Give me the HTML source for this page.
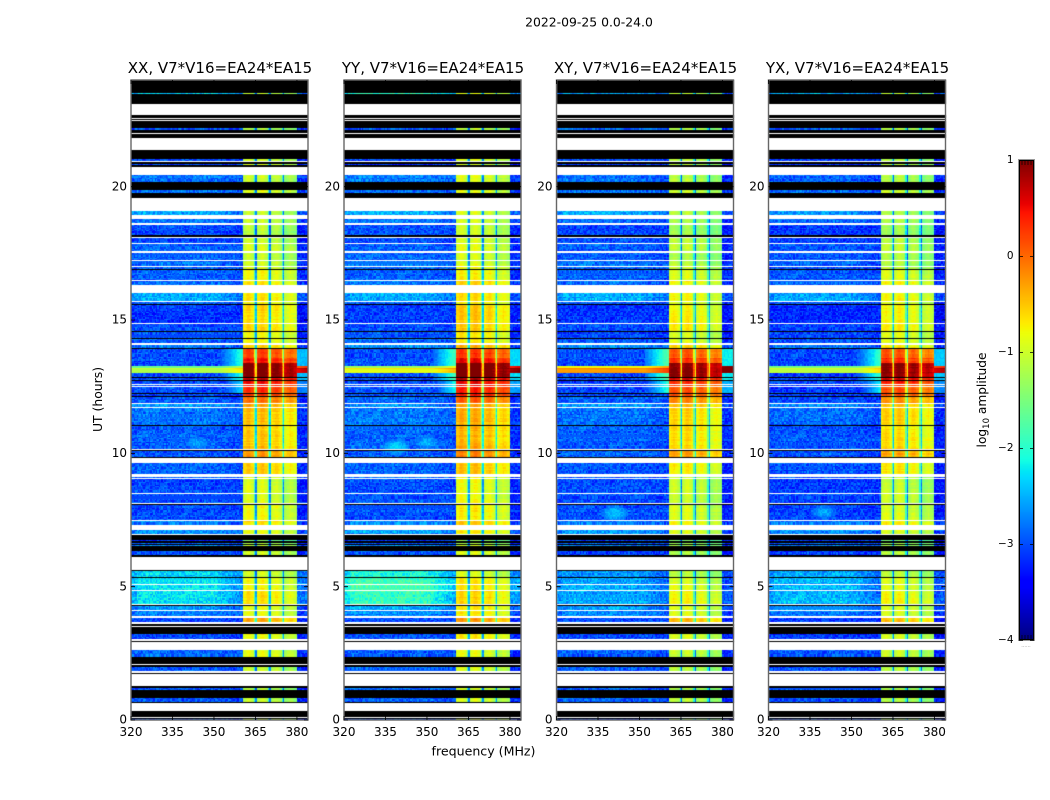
<!DOCTYPE html>
<html lang="en">
<head>
<meta charset="utf-8">
<title>2022-09-25 0.0-24.0</title>
<style>
html,body{margin:0;padding:0;background:#fff;}
#figure{position:relative;width:1050px;height:800px;overflow:hidden;background:#fff;}
canvas{position:absolute;}
svg{position:absolute;left:0;top:0;}
text{font-family:"DejaVu Sans","Liberation Sans",sans-serif;fill:#000;}
</style>
</head>
<body>
<div id="figure">
<svg id="overlay" width="1050" height="800">
<text x="589" y="26.5" text-anchor="middle" font-size="12.4">2022-09-25 0.0-24.0</text>
<text x="483.5" y="755.5" text-anchor="middle" font-size="12.6">frequency (MHz)</text>
<text transform="translate(102,399.5) rotate(-90)" text-anchor="middle" font-size="12.4">UT (hours)</text>
<text transform="translate(986,400) rotate(-90)" text-anchor="middle" font-size="12.2">log<tspan font-size="8.5" dy="3">10</tspan><tspan dy="-3"> amplitude</tspan></text>
<text x="1026" y="647" text-anchor="middle" font-size="5" style="fill:#888">......</text>
</svg>
</div>
<script>
// ---- chart data ----
const K = 'K', W = 'W', _ = null;

const panelTitles = ['XX, V7*V16=EA24*EA15', 'YY, V7*V16=EA24*EA15', 'XY, V7*V16=EA24*EA15', 'YX, V7*V16=EA24*EA15'];
const xTicks = [320, 335, 350, 365, 380];
const yTicks = [0, 5, 10, 15, 20];
const cbarTicks = [1, 0, -1, -2, -3, -4];

// time spans, top to bottom (UT hours). K = black, W = blank (flagged)
const spanEdgesUT = [24,
 23.51,23.48,23.10,22.69,22.58,22.54,22.50,22.46,22.20,22.13,
 22.01,21.98,21.83,21.38,21.04,20.96,20.93,20.85,20.81,20.74,
 20.44,20.18,19.88,19.76,19.56,19.09,18.94,18.79,18.62,18.58,
 18.17,18.13,18.09,17.89,17.85,17.64,17.61,17.57,17.53,17.25,
 17.21,17.03,16.99,16.91,16.88,16.50,16.46,16.31,16.02,15.71,
 15.68,15.60,15.56,14.89,14.85,14.59,14.55,14.33,14.29,14.14,
 14.06,13.95,13.91,13.58,13.39,12.86,12.83,12.75,12.71,12.60,
 12.56,12.51,12.47,12.26,12.23,12.15,12.11,11.89,11.85,11.74,
 11.70,11.08,11.04,10.29,10.26,10.16,10.13,10.09,9.86,9.83,
 9.64,9.23,9.11,9.08,9.04,8.53,8.49,8.46,8.42,8.14,
 8.10,8.06,7.50,7.46,7.33,7.14,6.99,6.94,6.75,6.71,
 6.64,6.60,6.56,6.53,6.34,6.19,6.11,5.63,5.59,5.36,
 5.33,5.10,5.06,4.86,4.82,4.35,4.31,4.28,4.13,4.09,
 3.90,3.84,3.66,3.60,3.53,3.47,3.21,3.02,2.96,2.93,
 2.61,2.38,2.10,2.06,2.00,1.85,1.76,1.73,1.28,1.20,
 1.11,0.83,0.66,0.62,0.34,0.13,0.08,0.04,0];

// log10 amplitude of the off-band background in each span
const spanBackground = [
 K,-2.2,K,W,K,W,K,W,K,-2.8,
 K,W,K,W,K,-2.9,W,K,-3,K,
 W,-2.7,K,-2.7,K,W,-2.4,W,-2.7,W,
 -2.9,K,W,-2.9,W,-2.8,W,-2.8,W,-2.8,
 W,-2.7,W,-2.8,K,-2.8,W,-2.7,W,-2.4,
 W,-2.8,K,-3,W,-2.9,K,-2.9,K,-2.8,
 W,-2.6,K,-2.9,-2.9,-2.9,K,-2.9,K,-2.9,
 W,-2.9,W,-2.9,K,-2.9,K,-2.8,W,-2.5,
 W,-2.7,K,-2.8,W,-2.8,W,K,-2.8,K,
 W,-2.8,W,-2.8,W,-2.9,W,-2.8,W,-2.9,
 W,K,-2.9,W,-2.6,W,-2.5,W,K,-3,
 K,-2.8,K,-2.6,K,-2.9,K,W,K,-2.25,
 K,-2.15,W,-2.1,W,-2.15,W,K,-2.5,W,
 -2.6,W,-2.9,W,K,W,K,-2.9,W,K,
 W,-2.8,K,W,K,-2.8,W,K,W,K,
 -2.8,K,-2.8,K,W,K,W,K,-2.9];

// log10 amplitude inside the bright 360-380 MHz windows in each span
const spanSignal = [
 _,-1.2,_,_,_,_,_,_,_,-1.3,
 _,_,_,_,_,-1.2,_,_,-1.2,_,
 _,-1.2,_,-1.1,_,_,-1.2,_,-1.25,_,
 -1.3,_,_,-1.2,_,-1.15,_,-1.15,_,-1.25,
 _,-1.2,_,-1.1,_,-1.0,_,-0.85,_,-0.85,
 _,-1,_,-0.8,_,-0.8,_,-1.0,_,-0.95,
 _,-0.7,_,0.0,0.25,0.9,_,0.5,_,0.3,
 _,0.2,_,0.1,_,0.1,_,-0.25,_,-0.55,
 _,-0.65,_,-0.7,_,-0.6,_,_,-0.4,_,
 _,-0.75,_,-1.1,_,-1.1,_,-1.1,_,-1.1,
 _,_,-1,_,-0.8,_,-1,_,_,-1.6,
 _,-1.4,_,-1.3,_,-1.2,_,_,_,-1.2,
 _,-1,_,-0.95,_,-0.85,_,_,-1,_,
 -1,_,-0.5,_,_,_,_,-1,_,_,
 _,-1.1,_,_,_,-1.2,_,_,_,_,
 -1.3,_,-1.2,_,_,_,_,_,-1.3];

// spectral windows
const windowStartMHz = [360.5, 365.5, 370.5, 375.5];
const windowEndMHz = [364.5, 369.5, 374.5, 380];
const windowGain = [0.12, 0.14, 0.02, -0.14];

// narrow continuum ridge near 13 UT
const ridgeTopUT = [13.30, 13.22, 13.13];
const ridgeBottomUT = [13.22, 13.13, 13.00];
const ridgeLevel = [-1.6, -1.0, -1.15];

// cyan shoulders hugging the windows during the event
const shoulderTopUT = [13.95, 12.71];
const shoulderBottomUT = [12.75, 12.23];
const shoulderLevel = [-1.95, -2.25];

// faint diffuse patches in the background
const patchPanel = [1, 1, 2, 3, 0];
const patchFreq = [339, 350, 341, 340, 344];
const patchUT = [10.25, 10.4, 7.75, 7.8, 10.4];
const patchLevel = [-2.35, -2.5, -2.4, -2.55, -2.55];

// per-polarisation adjustments
const panelSignalOffset = [0, 0.1, -0.12, -0.12];
const panelBackgroundOffset = [0, 0.03, 0, -0.05];
const panelGlowGain = [0, 0.4, -0.35, -0.2];
const panelRidgeOffset = [0, 0.3, 0.85, 0.05];
const panelShoulderOffset = [0, 0.15, 0.25, 0.05];

// fixed speckle texture (illustrative, not read cell by cell)
const speckle = [0.31,-0.42,0.12,-0.18,0.47,-0.05,-0.33,0.22,0.04,-0.51,0.38,-0.12,0.17,-0.27,0.55,-0.08,-0.39,0.09,0.28,-0.21,
 -0.46,0.35,0.02,-0.15,0.42,-0.3,0.14,0.25,-0.56,0.07,0.33,-0.1,-0.24,0.49,-0.37,0.19,-0.03,0.29,-0.44,0.11,
 0.4,-0.2,-0.07,0.24,-0.34,0.52,-0.16,0.06,-0.48,0.36,0.15,-0.29,0.21,-0.11,0.44,-0.41,0.01,0.27,-0.23,0.13,-0.36];

// ---- axes ----
const panelLeft = [131, 344, 556.5, 768.5];
const panelWidth = 177, plotTop = 80, plotBottom = 720;
const freqMin = 320, freqMax = 384, utMin = 0, utMax = 24;
const freqStep = 0.5, utStep = 0.05;
const xScale = (p, f) => panelLeft[p] + (f - freqMin) / (freqMax - freqMin) * panelWidth;
const yScale = ut => plotBottom - (ut - utMin) / (utMax - utMin) * (plotBottom - plotTop);
const cbarTop = 160, cbarBottom = 640, cbarLeft = 1019, cbarRight = 1034, cbarMin = -4, cbarMax = 1;
const cbarScale = v => cbarBottom - (v - cbarMin) / (cbarMax - cbarMin) * (cbarBottom - cbarTop);

function ramp(t, pts) {
  for (let i = 1; i < pts.length; i++) {
    if (t <= pts[i][0]) {
      const a = pts[i - 1], b = pts[i];
      return a[1] + (b[1] - a[1]) * (t - a[0]) / (b[0] - a[0]);
    }
  }
  return pts[pts.length - 1][1];
}
function jet(v) {
  const t = Math.max(0, Math.min(1, (v - cbarMin) / (cbarMax - cbarMin)));
  const r = ramp(t, [[0,0],[0.35,0],[0.66,1],[0.89,1],[1,0.5]]);
  const g = ramp(t, [[0,0],[0.125,0],[0.375,1],[0.64,1],[0.91,0],[1,0]]);
  const b = ramp(t, [[0,0.5],[0.11,1],[0.34,1],[0.65,0],[1,0]]);
  return 'rgb(' + Math.round(r * 255) + ',' + Math.round(g * 255) + ',' + Math.round(b * 255) + ')';
}

function glowShape(f) {
  if (f < 322) return 0.75;
  if (f < 350) return 1;
  if (f < 361) return 1 - (f - 350) * 0.05;
  return 0.6;
}

function cellValue(p, f, ut, bg, sig, ci, ri) {
  const n = speckle.length;
  const g1 = speckle[(ci * 17 + ri * 29 + ci * ri) % n];
  const g2 = speckle[(ri * 13) % n];
  let win = -1;
  for (let w = 0; w < windowStartMHz.length; w++) {
    if (f >= windowStartMHz[w] && f < windowEndMHz[w]) win = w;
  }
  const s = sig + panelSignalOffset[p];
  if (win >= 0) {
    const u = (f - windowStartMHz[win]) / (windowEndMHz[win] - windowStartMHz[win]);
    const dome = 0.17 - 0.55 * Math.abs(u - 0.5);
    return s + windowGain[win] + dome + g1 * 0.14 + g2 * 0.16;
  }
  if (f >= windowStartMHz[0] && f < windowEndMHz[windowEndMHz.length - 1]) {
    let gapDepth = -0.75;
    for (let w = 0; w < windowEndMHz.length; w++) {
      if (f >= windowEndMHz[w] + 0.5 && f < windowEndMHz[w] + 1) gapDepth = -1.6;
    }
    return s + gapDepth + g1 * 0.3;
  }
  const gain = bg >= -2.3 ? panelGlowGain[p] : 0;
  let b = -3 + (bg + 3) * (1 + gain) * glowShape(f) + panelBackgroundOffset[p] - 0.12;
  if (f >= 380) b -= 0.2;
  let v = b + g1 * 0.58 + g2 * 0.14;
  for (let j = 0; j < patchFreq.length; j++) {
    if (patchPanel[j] !== p) continue;
    const df = (f - patchFreq[j]) / 5, dt = (ut - patchUT[j]) / 0.3;
    const d = df * df + dt * dt;
    if (d < 1) v = Math.max(v, patchLevel[j] - d * 0.5 + g1 * 0.35);
  }
  for (let j = 0; j < shoulderLevel.length; j++) {
    if (ut <= shoulderTopUT[j] && ut >= shoulderBottomUT[j]) {
      const lvl = shoulderLevel[j] + panelShoulderOffset[p];
      if (f < 360.5 && f > 352) v = Math.max(v, lvl - (360.5 - f) * 0.13 + g1 * 0.2);
      if (f >= 380) v = Math.max(v, lvl - 0.5 + g1 * 0.2);
    }
  }
  for (let j = 0; j < ridgeLevel.length; j++) {
    if (ut <= ridgeTopUT[j] && ut > ridgeBottomUT[j]) {
      const near = f > 352 ? (f - 352) * 0.06 : 0;
      v = Math.max(v, ridgeLevel[j] + panelRidgeOffset[p] + near + g2 * 0.1 + g1 * 0.05);
    }
  }
  return v;
}

const figure = document.getElementById('figure');
const overlay = document.getElementById('overlay');
const NS = 'http://www.w3.org/2000/svg';
function svg(tag, attrs, txt) {
  const el = document.createElementNS(NS, tag);
  for (const k in attrs) el.setAttribute(k, attrs[k]);
  if (txt !== undefined) el.textContent = txt;
  return el;
}

function drawHeatmap(p) {
  const left = Math.floor(panelLeft[p]);
  const cv = document.createElement('canvas');
  
  
  cv.width = panelWidth + 2;
  cv.height = plotBottom - plotTop;
  cv.style.left = left + 'px';
  cv.style.top = plotTop + 'px';
  figure.insertBefore(cv, overlay);
  const ctx = cv.getContext('2d');
  for (let s = 0; s < spanBackground.length; s++) {
    const y0 = Math.round(yScale(spanEdgesUT[s])) - plotTop;
    let y1 = Math.round(yScale(spanEdgesUT[s + 1])) - plotTop;
    if (y1 <= y0) y1 = y0 + 1;
    const bg = spanBackground[s];
    if (bg === W) continue;
    const fx0 = Math.round(xScale(p, freqMin)) - left;
    const fx1 = Math.round(xScale(p, freqMax)) - left;
    if (bg === K) {
      ctx.fillStyle = '#000';
      ctx.fillRect(fx0, y0, fx1 - fx0, y1 - y0);
      continue;
    }
    const sig = spanSignal[s];
    const ut0 = spanEdgesUT[s], ut1 = spanEdgesUT[s + 1];
    const rows = Math.max(1, Math.round((ut0 - ut1) / utStep));
    for (let r = 0; r < rows; r++) {
      const ut = ut0 - (r + 0.5) * (ut0 - ut1) / rows;
      const ra = y0 + Math.round(r * (y1 - y0) / rows);
      const rb = y0 + Math.round((r + 1) * (y1 - y0) / rows);
      if (rb <= ra) continue;
      const ri = Math.floor(ut / utStep) + p * 7;
      const nChan = Math.round((freqMax - freqMin) / freqStep);
      for (let c = 0; c < nChan; c++) {
        const f = freqMin + c * freqStep;
        const xa = Math.round(xScale(p, f)) - left;
        const xb = Math.round(xScale(p, f + freqStep)) - left;
        ctx.fillStyle = jet(cellValue(p, f + freqStep / 2, ut, bg, sig, c, ri));
        ctx.fillRect(xa, ra, xb - xa, rb - ra);
      }
    }
  }
}

function drawAxes(p) {
  const x0 = panelLeft[p], x1 = x0 + panelWidth;
  const frame = svg('rect', {x: x0, y: plotTop, width: panelWidth, height: plotBottom - plotTop, fill: 'none', stroke: '#666', 'stroke-width': 1.4});
  
  
  overlay.appendChild(frame);

  const title = svg('text', {x: x0 + panelWidth / 2 + 0.5, y: 73, 'text-anchor': 'middle', 'font-size': 15}, panelTitles[p]);
  
  
  overlay.appendChild(title);

  xTicks.forEach(v => {
    const x = xScale(p, v);
    const tick = svg('path', {d: 'M' + x + ' ' + plotBottom + 'v-4M' + x + ' ' + plotTop + 'v4', stroke: '#000', 'stroke-width': 0.8, fill: 'none'});
    
    
    overlay.appendChild(tick);
    const label = svg('text', {x: x, y: 736, 'text-anchor': 'middle', 'font-size': 12}, String(v));
    
    
    overlay.appendChild(label);
  });
  yTicks.forEach(v => {
    const y = yScale(v);
    const tick = svg('path', {d: 'M' + x0 + ' ' + y + 'h4M' + x1 + ' ' + y + 'h-4', stroke: '#000', 'stroke-width': 0.8, fill: 'none'});
    
    
    overlay.appendChild(tick);
    const label = svg('text', {x: x0 - 4, y: y + 3.7, 'text-anchor': 'end', 'font-size': 12}, String(v));
    
    
    overlay.appendChild(label);
  });
}

function drawColorbar() {
  const cv = document.createElement('canvas');
  
  
  cv.width = cbarRight - cbarLeft;
  cv.height = cbarBottom - cbarTop;
  cv.style.left = cbarLeft + 'px';
  cv.style.top = cbarTop + 'px';
  figure.insertBefore(cv, overlay);
  const ctx = cv.getContext('2d');
  for (let y = 0; y < cv.height; y++) {
    const v = cbarMax - (y + 0.5) / cv.height * (cbarMax - cbarMin);
    ctx.fillStyle = jet(v);
    ctx.fillRect(0, y, cv.width, 1);
  }
  const w = cbarRight - cbarLeft;
  const outer = svg('rect', {x: cbarLeft - 0.5, y: cbarTop - 0.5, width: w + 1, height: cbarBottom - cbarTop + 1, fill: 'none', stroke: '#999', 'stroke-width': 1});
  
  
  overlay.appendChild(outer);
  const inner = svg('rect', {x: cbarLeft + 0.5, y: cbarTop + 0.5, width: w - 1, height: cbarBottom - cbarTop - 1, fill: 'none', stroke: '#000', 'stroke-width': 1});
  
  
  overlay.appendChild(inner);
  cbarTicks.forEach(v => {
    const y = Math.round(cbarScale(v)) + 0.5;
    const tick = svg('path', {d: 'M' + cbarLeft + ' ' + y + 'h4M' + cbarRight + ' ' + y + 'h-4', stroke: '#000', 'stroke-width': 0.8, fill: 'none'});
    
    
    overlay.appendChild(tick);
    const label = svg('text', {x: 1013.5, y: cbarScale(v) + 3, 'text-anchor': 'end', 'font-size': 10.5}, (v < 0 ? '\u2212' + (-v) : String(v)));
    
    
    overlay.appendChild(label);
  });
  for (let i = 1; i <= 4; i++) {
    const x = cbarLeft + i * w / 5;
    const m = svg('path', {d: 'M' + x + ' ' + cbarTop + 'v5M' + x + ' ' + cbarBottom + 'v-5', stroke: '#000', 'stroke-width': 0.7, fill: 'none'});
    
    
    overlay.appendChild(m);
  }
}

for (let p = 0; p < panelTitles.length; p++) {
  drawHeatmap(p);
  drawAxes(p);
}
drawColorbar();
</script>
</body>
</html>
